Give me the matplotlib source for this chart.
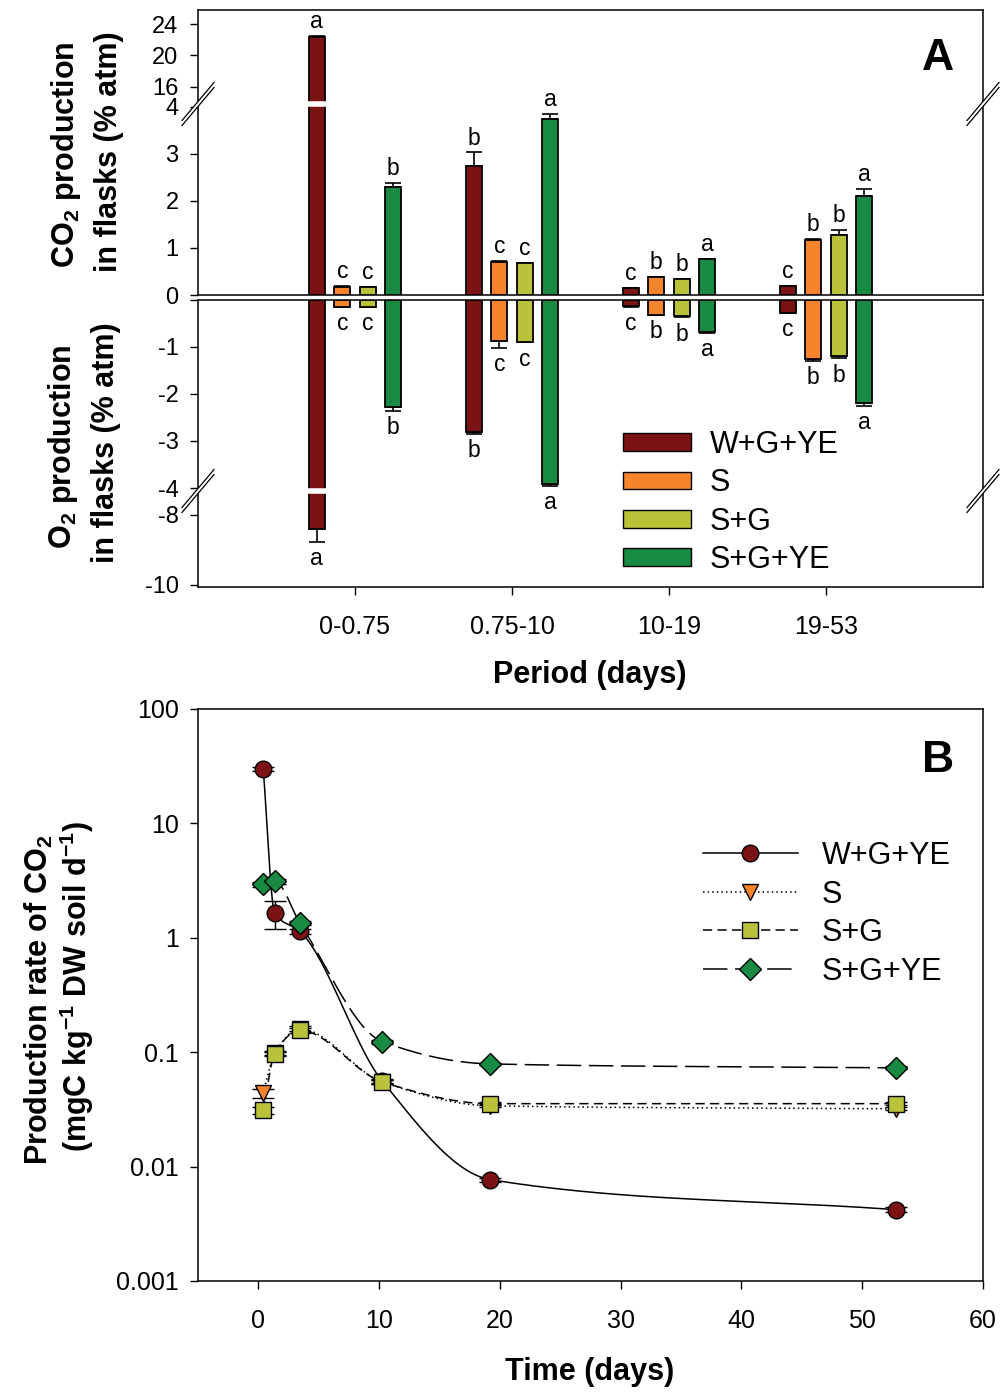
import numpy as np
import matplotlib
matplotlib.use("Agg")
import matplotlib.pyplot as plt
from matplotlib.patches import Patch, Polygon
from matplotlib.lines import Line2D
from matplotlib.ticker import NullLocator

plt.rcParams['font.family'] = ['Liberation Sans', 'DejaVu Sans']
plt.rcParams['mathtext.fontset'] = 'custom'
plt.rcParams['mathtext.rm'] = 'Liberation Sans:bold'
plt.rcParams['mathtext.it'] = 'Liberation Sans:bold'
plt.rcParams['mathtext.default'] = 'rm'

# ---- panel A data ----
periods = ['0-0.75', '0.75-10', '10-19', '19-53']
treatments = ['W+G+YE', 'S', 'S+G', 'S+G+YE']
colors = ['#7B1214', '#F5842C', '#BAC23A', '#188A44']

co2_wgye = [22.3, 2.75, 0.15, 0.20]
co2_s = [0.18, 0.70, 0.38, 1.17]
co2_sg = [0.17, 0.68, 0.34, 1.28]
co2_sgye = [2.30, 3.75, 0.77, 2.10]
co2_err_wgye = [0.15, 0.28, 0.0, 0.0]
co2_err_s = [0.02, 0.02, 0.0, 0.03]
co2_err_sg = [0.0, 0.0, 0.0, 0.10]
co2_err_sgye = [0.08, 0.10, 0.0, 0.15]
co2_let_wgye = ['a', 'b', 'c', 'c']
co2_let_s = ['c', 'c', 'b', 'b']
co2_let_sg = ['c', 'c', 'b', 'b']
co2_let_sgye = ['b', 'a', 'a', 'a']

o2_wgye = [-8.40, -2.80, -0.13, -0.28]
o2_s = [-0.15, -0.87, -0.32, -1.27]
o2_sg = [-0.15, -0.90, -0.36, -1.20]
o2_sgye = [-2.28, -3.92, -0.68, -2.20]
o2_err_wgye = [0.37, 0.05, 0.02, 0.0]
o2_err_s = [0.0, 0.15, 0.0, 0.03]
o2_err_sg = [0.0, 0.0, 0.02, 0.05]
o2_err_sgye = [0.08, 0.03, 0.02, 0.05]
o2_let_wgye = ['a', 'b', 'c', 'c']
o2_let_s = ['c', 'c', 'b', 'b']
o2_let_sg = ['c', 'c', 'b', 'b']
o2_let_sgye = ['b', 'a', 'a', 'a']

# ---- panel B data ----
days = [0.4, 1.35, 3.45, 10.25, 19.2, 52.8]
rate_wgye = [30.0, 1.64, 1.14, 0.056, 0.0077, 0.0042]
rate_s = [0.044, 0.098, 0.160, 0.055, 0.034, 0.032]
rate_sg = [0.031, 0.097, 0.155, 0.055, 0.0355, 0.0355]
rate_sgye = [2.94, 3.12, 1.34, 0.124, 0.079, 0.073]
err_wgye = [1.0, 0.45, 0.06, 0.002, 0.0003, 0.0002]
err_s = [0.004, 0.004, 0.008, 0.002, 0.001, 0.001]
err_sg = [0.002, 0.004, 0.008, 0.002, 0.001, 0.001]
err_sgye = [0.15, 0.15, 0.05, 0.005, 0.002, 0.002]

H = 1392.0


def fy(px):
    return 1 - px / H


def piecewise_scale(data, px):
    fwd = lambda v: np.interp(v, data, px)
    inv = lambda v: np.interp(v, px, data)
    return fwd, inv


def break_marks(ax, yfrac, h_px):
    dx = 16 / 785.0
    dy = 19 / h_px
    off = 2.5 / h_px
    for xf in (0, 1):
        poly = [(xf - dx, yfrac - dy - off), (xf + dx, yfrac + dy - off),
                (xf + dx, yfrac + dy + off), (xf - dx, yfrac - dy + off)]
        ax.add_patch(Polygon(poly, closed=True, transform=ax.transAxes, facecolor='white',
                             edgecolor='none', clip_on=False, zorder=10))
        for s in (-off, off):
            ax.plot([xf - dx, xf + dx], [yfrac - dy + s, yfrac + dy + s], transform=ax.transAxes,
                    color='black', lw=0.9, clip_on=False, zorder=11)


def smooth_line(x, y, n=80):
    # monotone cubic through the points, in log space
    x = np.asarray(x, float)
    ly = np.log10(y)
    h = np.diff(x)
    d = np.diff(ly) / h
    m = np.empty_like(ly)
    m[0], m[-1] = d[0], d[-1]
    for k in range(1, len(x) - 1):
        if d[k - 1] * d[k] <= 0:
            m[k] = 0
        else:
            w1 = 2 * h[k] + h[k - 1]
            w2 = h[k] + 2 * h[k - 1]
            m[k] = (w1 + w2) / (w1 / d[k - 1] + w2 / d[k])
    xs, ys = [], []
    t = np.linspace(0, 1, n)
    for k in range(len(x) - 1):
        h00 = 2 * t**3 - 3 * t**2 + 1
        h10 = t**3 - 2 * t**2 + t
        h01 = -2 * t**3 + 3 * t**2
        h11 = t**3 - t**2
        seg = h00 * ly[k] + h10 * h[k] * m[k] + h01 * ly[k + 1] + h11 * h[k] * m[k + 1]
        xs.append(x[k] + t * h[k])
        ys.append(seg)
    return np.concatenate(xs), 10 ** np.concatenate(ys)


fig = plt.figure(figsize=(10, 13.92), dpi=100)

ax_up = fig.add_axes([0.198, fy(295), 0.785, (295 - 10) / H])
ax_dn = fig.add_axes([0.198, fy(587), 0.785, (587 - 299.5) / H])
ax_b = fig.add_axes([0.198, fy(1281), 0.785, (1281 - 709) / H])

up_fwd, up_inv = piecewise_scale([-100, 0, 4.06, 13.84, 25.78, 100],
                                 [-4700, 0, 191, 191.01, 285, 285 + 74.22 * 7.875])
dn_fwd, dn_inv = piecewise_scale([-100, -10.06, -7.32, -4.06, 0, 100],
                                 [-89.94 * 35, 0, 96, 96.01, 287.51, 287.51 + 4710])
ax_up.set_yscale('function', functions=(up_fwd, up_inv))
ax_dn.set_yscale('function', functions=(dn_fwd, dn_inv))
ax_up.set_ylim(0, 25.78)
ax_dn.set_ylim(-10.06, 0)

co2_means = [co2_wgye, co2_s, co2_sg, co2_sgye]
co2_errs = [co2_err_wgye, co2_err_s, co2_err_sg, co2_err_sgye]
co2_lets = [co2_let_wgye, co2_let_s, co2_let_sg, co2_let_sgye]
o2_means = [o2_wgye, o2_s, o2_sg, o2_sgye]
o2_errs = [o2_err_wgye, o2_err_s, o2_err_sg, o2_err_sgye]
o2_lets = [o2_let_wgye, o2_let_s, o2_let_sg, o2_let_sgye]

x_groups = np.arange(1, 5)
offsets = (np.arange(4) - 1.5) * 0.162
width = 0.102

for i in range(4):
    xs = x_groups + offsets[i]
    for ax, means, errs, lets, sign in ((ax_up, co2_means, co2_errs, co2_lets, 1),
                                        (ax_dn, o2_means, o2_errs, o2_lets, -1)):
        vals = np.array(means[i])
        err = np.array(errs[i])
        ax.bar(xs, vals, width, color=colors[i], edgecolor='black', linewidth=1.3, zorder=3)
        if sign > 0:
            yerr = [np.zeros(4), err]
        else:
            yerr = [err, np.zeros(4)]
        ax.errorbar(xs, vals, yerr=yerr, fmt='none', ecolor='black', elinewidth=1.2,
                    capsize=5.5, capthick=1.2, zorder=2)
        for j in range(4):
            tip = vals[j] + sign * err[j]
            if sign > 0:
                ax.annotate(lets[i][j], (xs[j], tip), xytext=(0, 2), textcoords='offset points',
                            ha='center', va='bottom', fontsize=16.5)
            else:
                ax.annotate(lets[i][j], (xs[j], tip), xytext=(0, -4), textcoords='offset points',
                            ha='center', va='top', fontsize=16.5)

# white gap on the bar that crosses the break
xw = x_groups[0] + offsets[0]
ax_up.plot([xw - width / 2 - 0.01, xw + width / 2 + 0.01], [9, 9], color='white', lw=4,
           solid_capstyle='butt', zorder=5)
ax_dn.plot([xw - width / 2 - 0.01, xw + width / 2 + 0.01], [-5.5, -5.5], color='white', lw=4,
           solid_capstyle='butt', zorder=5)

for ax in (ax_up, ax_dn):
    ax.set_xlim(0, 5)
    for sp in ax.spines.values():
        sp.set_linewidth(1.1)
    ax.tick_params(axis='y', direction='out', length=6, width=1, labelsize=17, pad=8)
ax_up.set_xticks([])
ax_up.set_yticks([0, 1, 2, 3, 4, 16, 20, 24])
ax_dn.set_yticks([0, -1, -2, -3, -4, -8, -10], ['', '-1', '-2', '-3', '-4', '-8', '-10'])
ax_dn.set_xticks(x_groups, periods)
ax_dn.tick_params(axis='x', direction='out', length=6, width=1, labelsize=18, pad=14)

break_marks(ax_up, 191 / 285.0, 285.0)
break_marks(ax_dn, 96 / 287.5, 287.5)

handles = [Patch(facecolor=c, edgecolor='black', linewidth=1) for c in colors]
ax_dn.legend(handles, treatments, loc='upper left', bbox_to_anchor=(0.623, fy(430)),
             bbox_transform=fig.transFigure, frameon=False, fontsize=22, handlelength=2.23,
             handleheight=0.52, handletextpad=0.6, labelspacing=0.27, borderpad=0, borderaxespad=0)

fig.text(0.938, fy(58), 'A', ha='center', va='center', fontsize=32, fontweight='bold')
fig.text(0.066, fy(155), r'CO$_2$ production', rotation=90, ha='center', va='center',
         fontsize=22, fontweight='bold')
fig.text(0.109, fy(152), 'in flasks (% atm)', rotation=90, ha='center', va='center',
         fontsize=22, fontweight='bold')
fig.text(0.063, fy(447), r'O$_2$ production', rotation=90, ha='center', va='center',
         fontsize=22, fontweight='bold')
fig.text(0.106, fy(443), 'in flasks (% atm)', rotation=90, ha='center', va='center',
         fontsize=22, fontweight='bold')
fig.text(0.59, fy(675), 'Period (days)', ha='center', va='center', fontsize=22, fontweight='bold')

# ---- panel B ----
rates = [rate_wgye, rate_s, rate_sg, rate_sgye]
rate_errs = [err_wgye, err_s, err_sg, err_sgye]
markers = ['o', 'v', 's', 'D']
msizes = [12, 12, 11, 11]
styles = ['-', (0, (1, 2)), (0, (6, 3.5)), (0, (16, 5))]

for i in range(4):
    sx, sy = smooth_line(days, rates[i])
    ax_b.plot(sx, sy, color='black', lw=1.1, ls=styles[i], zorder=2 + i)
    ax_b.errorbar(days, rates[i], yerr=rate_errs[i], fmt=markers[i], ms=msizes[i],
                  mfc=colors[i], mec='black', mew=1, ecolor='black', elinewidth=1,
                  capsize=8, capthick=1, ls='none', zorder=6 + i)

ax_b.set_yscale('log')
ax_b.set_ylim(0.001, 100)
ax_b.set_xlim(-5, 60)
ax_b.set_xticks([0, 10, 20, 30, 40, 50, 60])
ax_b.set_yticks([0.001, 0.01, 0.1, 1, 10, 100], ['0.001', '0.01', '0.1', '1', '10', '100'])
ax_b.yaxis.set_minor_locator(NullLocator())
ax_b.tick_params(direction='out', length=6, width=1, labelsize=18)
ax_b.tick_params(axis='y', pad=8)
ax_b.tick_params(axis='x', pad=14)
for sp in ax_b.spines.values():
    sp.set_linewidth(1.1)

leg_handles = [Line2D([], [], color='black', lw=1.1, ls=styles[i], marker=markers[i], ms=msizes[i],
                      mfc=colors[i], mec='black', mew=1) for i in range(4)]
ax_b.legend(leg_handles, treatments, loc='upper left', bbox_to_anchor=(0.703, fy(841)),
            bbox_transform=fig.transFigure, frameon=False, fontsize=22, numpoints=1,
            handlelength=3.1, handletextpad=0.79, labelspacing=0.28, borderpad=0, borderaxespad=0)

fig.text(0.938, fy(760), 'B', ha='center', va='center', fontsize=32, fontweight='bold')
fig.text(0.039, fy(1000), r'Production rate of CO$_2$', rotation=90, ha='center', va='center',
         fontsize=22, fontweight='bold')
fig.text(0.077, fy(986), r'(mgC kg$^{-1}$ DW soil d$^{-1}$)', rotation=90, ha='center',
         va='center', fontsize=22, fontweight='bold')
fig.text(0.59, fy(1372), 'Time (days)', ha='center', va='center', fontsize=22, fontweight='bold')

fig.savefig('out.png', dpi=100)
